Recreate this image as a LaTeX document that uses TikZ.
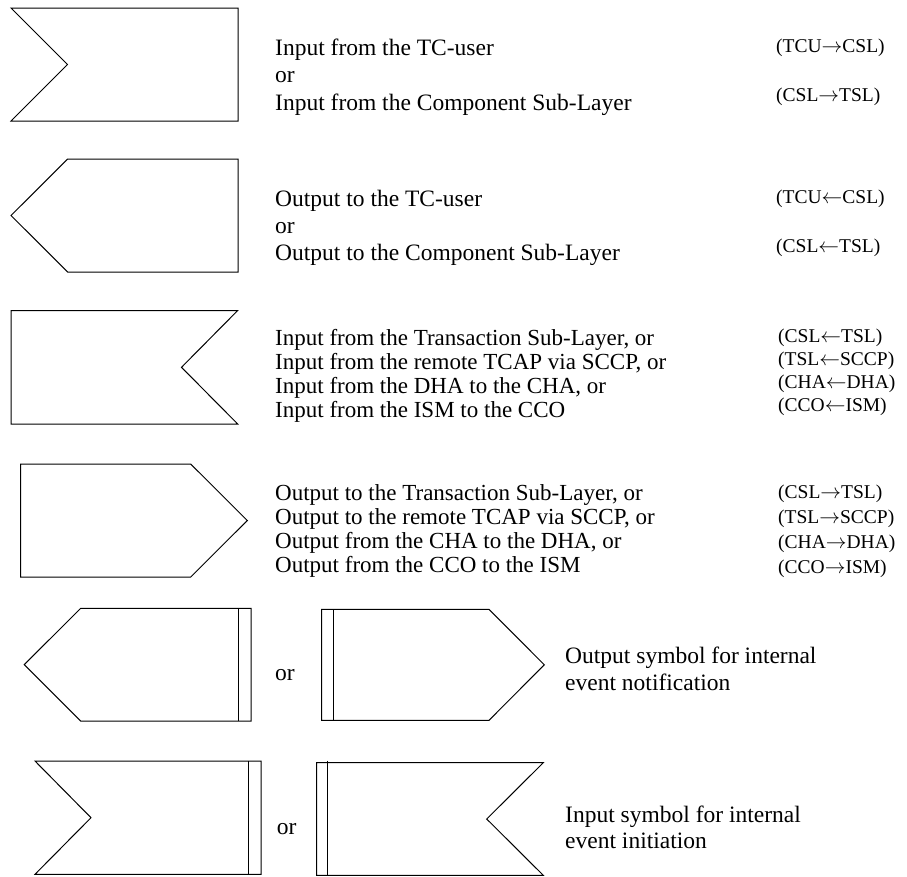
\documentclass[tikz,border=0pt]{standalone}
\usepackage{fontspec}
\setmainfont{Liberation Serif}
\begin{document}
\begin{tikzpicture}[x=1pt,y=-1pt,
  sym/.style={draw=black,line width=1pt,line join=miter},
  txt/.style={anchor=base west,inner sep=0pt,font=\fontsize{23.5}{27}\selectfont},
  txtb/.style={anchor=base west,inner sep=0pt,font=\fontsize{23}{26}\selectfont},
  code/.style={anchor=base west,inner sep=0pt,font=\fontsize{19.5}{23}\selectfont}]
\useasboundingbox[fill=white] (0,0) rectangle (907,876);
% row 1: input (notch left)
\draw[sym] (11,8) -- (238,8) -- (238,121) -- (11,121) -- (67.5,64.5) -- cycle;
\node[txt] (r1a) at (275,55) {Input from the TC-user};
\node[txt] (r1b) at (275,82.5) {or};
\node[txt] (r1c) at (275,110) {Input from the Component Sub-Layer};
\node[code] (c1a) at (776,52) {(TCU$\rightarrow$CSL)};
\node[code] (c1b) at (776,101) {(CSL$\rightarrow$TSL)};
% row 2: output (point left)
\draw[sym] (67.7,159) -- (238,159) -- (238,272) -- (67.7,272) -- (11,215.5) -- cycle;
\node[txt] (r2a) at (275,206) {Output to the TC-user};
\node[txt] (r2b) at (275,233) {or};
\node[txt] (r2c) at (275,260) {Output to the Component Sub-Layer};
\node[code] (c2a) at (776,203) {(TCU$\leftarrow$CSL)};
\node[code] (c2b) at (776,252) {(CSL$\leftarrow$TSL)};
% row 3: input (notch right)
\draw[sym] (11,310.5) -- (237.7,310.5) -- (181.5,367.3) -- (237.7,424) -- (11,424) -- cycle;
\node[txtb] (r3a) at (275,345) {Input from the Transaction Sub-Layer, or};
\node[txtb] (r3b) at (275,369) {Input from the remote TCAP via SCCP, or};
\node[txtb] (r3c) at (275,393) {Input from the DHA to the CHA, or};
\node[txtb] (r3d) at (275,417) {Input from the ISM to the CCO};
\node[code] (c3a) at (778,342) {(CSL$\leftarrow$TSL)};
\node[code] (c3b) at (778,365) {(TSL$\leftarrow$SCCP)};
\node[code] (c3c) at (778,388) {(CHA$\leftarrow$DHA)};
\node[code] (c3d) at (778,411) {(CCO$\leftarrow$ISM)};
% row 4: output (point right)
\draw[sym] (20.7,464) -- (190.7,464) -- (247.3,520.5) -- (190.7,577) -- (20.7,577) -- cycle;
\node[txtb] (r4a) at (275,500) {Output to the Transaction Sub-Layer, or};
\node[txtb] (r4b) at (275,524) {Output to the remote TCAP via SCCP, or};
\node[txtb] (r4c) at (275,548) {Output from the CHA to the DHA, or};
\node[txtb] (r4d) at (275,572) {Output from the CCO to the ISM};
\node[code] (c4a) at (778,498) {(CSL$\rightarrow$TSL)};
\node[code] (c4b) at (778,523) {(TSL$\rightarrow$SCCP)};
\node[code] (c4c) at (778,548) {(CHA$\rightarrow$DHA)};
\node[code] (c4d) at (778,573) {(CCO$\rightarrow$ISM)};
% row 5: internal output
\draw[sym] (80.7,608.3) -- (251,608.3) -- (251,721) -- (80.7,721) -- (24.3,664.6) -- cycle;
\draw[sym] (238.3,608.3) -- (238.3,721);
\node[txt] (or5) at (275,680) {or};
\draw[sym] (321.7,609.3) -- (489,609.3) -- (544.3,664.8) -- (489,720.3) -- (321.7,720.3) -- cycle;
\draw[sym] (333.7,609.3) -- (333.7,720.3);
\node[txt] (t5a) at (565,663) {Output symbol for internal};
\node[txt] (t5b) at (565,690) {event notification};
% row 6: internal input
\draw[sym] (35,761) -- (261,761) -- (261,874.3) -- (35,874.3) -- (91,817.7) -- cycle;
\draw[sym] (248.7,761) -- (248.7,874.3);
\node[txt] (or6) at (276.7,834) {or};
\draw[sym] (316.7,762.7) -- (543.3,762.7) -- (486.7,819) -- (543.3,875.3) -- (316.7,875.3) -- cycle;
\draw[sym] (327.7,760.7) -- (327.7,875.3);
\node[txt] (t6a) at (565,822) {Input symbol for internal};
\node[txt] (t6b) at (565,848) {event initiation};
\end{tikzpicture}
\end{document}
